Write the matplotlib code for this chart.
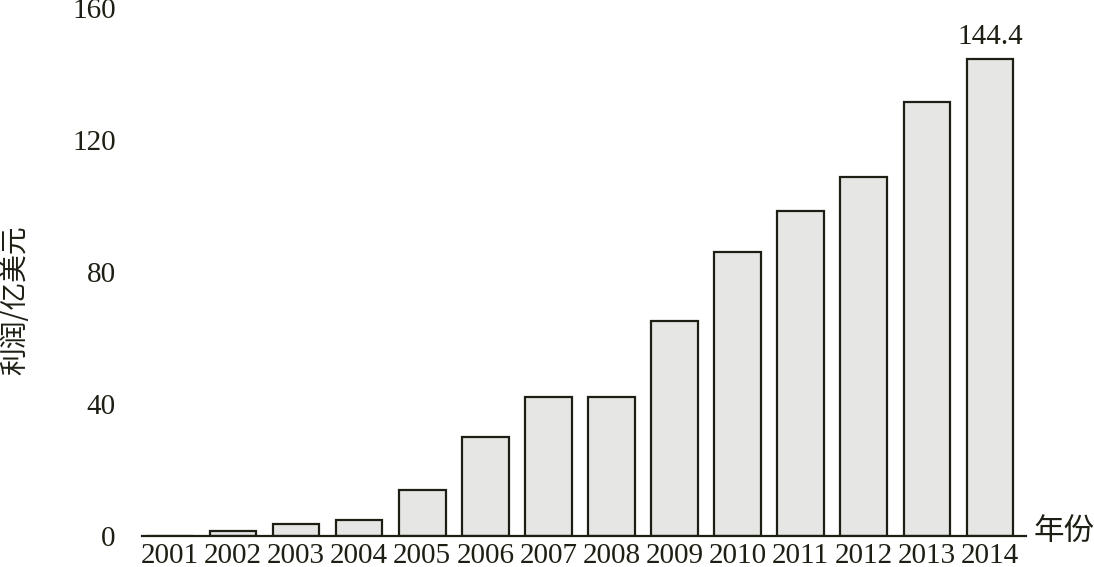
import matplotlib
matplotlib.use('Agg')
import matplotlib.pyplot as plt

# data
years = ['2001', '2002', '2003', '2004', '2005', '2006', '2007',
         '2008', '2009', '2010', '2011', '2012', '2013', '2014']
profits = [0, 1.5, 3.6, 4.8, 13.9, 30.0, 42.1,
           42.1, 65.2, 86.0, 98.5, 108.8, 131.5, 144.4]
y_ticks = [0, 40, 80, 120, 160]

serif = ['Liberation Serif', 'Noto Sans CJK SC']
cjk = ['Noto Sans CJK SC', 'DejaVu Sans']
text_color = '#1e1e14'

fig = plt.figure(figsize=(10.94, 5.67), dpi=100)
ax = fig.add_axes([142 / 1094, 31 / 567, 884 / 1094, 528 / 567])

xs = range(len(years))
ax.bar(xs, profits, width=0.74, color='#e6e6e4', edgecolor=text_color,
       linewidth=1.6, zorder=2)

# label on the last bar only
ax.annotate(f'{profits[-1]:.1f}', (len(years) - 1, profits[-1]),
            xytext=(0, 7), textcoords='offset points',
            ha='center', va='bottom', fontsize=21, family=serif,
            color=text_color)

ax.set_xlim(-0.44, len(years) - 1 + 0.57)
ax.set_ylim(0, 160)
ax.set_xticks(list(xs))
ax.set_xticklabels(years, family=serif, fontsize=21, color=text_color)
ax.set_yticks(y_ticks)
ax.set_yticklabels([str(t) for t in y_ticks], family=serif, fontsize=21,
                   color=text_color)
ax.tick_params(axis='both', length=0)
ax.tick_params(axis='x', pad=5)
ax.tick_params(axis='y', pad=19)

for side in ['top', 'right', 'left']:
    ax.spines[side].set_visible(False)
ax.spines['bottom'].set_linewidth(1.6)
ax.spines['bottom'].set_color(text_color)
ax.spines['bottom'].set_zorder(3)

fig.text(15 / 1094, 1 - 300 / 567, '利润/亿美元', rotation=90,
         ha='center', va='center', fontsize=20, family=cjk, color=text_color)
fig.text(1034 / 1094, 1 - 531 / 567, '年份', ha='left', va='center',
         fontsize=22, family=cjk, color=text_color)

fig.savefig('out.png', dpi=100)
